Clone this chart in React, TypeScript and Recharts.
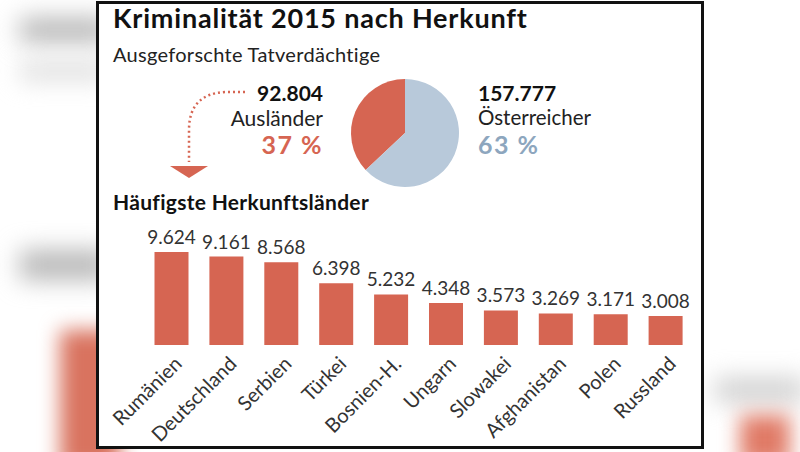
import React from "react";
import { Bar, BarChart, Cell, LabelList, Pie, PieChart, XAxis, YAxis } from "recharts";

// Data read from the graphic
const countries = [
  "Rumänien",
  "Deutschland",
  "Serbien",
  "Türkei",
  "Bosnien-H.",
  "Ungarn",
  "Slowakei",
  "Afghanistan",
  "Polen",
  "Russland"
];
const suspects = [9624, 9161, 8568, 6398, 5232, 4348, 3573, 3269, 3171, 3008];

const groupNames = ["Ausländer", "Österreicher"];
const groupValues = [92804, 157777];
const groupShares = ["37 %", "63 %"];

const RED = "#d66552";
const BLUE = "#b8c9da";
const BLUE_TEXT = "#8da6be";
const FONT = "Lato, 'Open Sans', sans-serif";

const fmt = (v: number) => v.toLocaleString("de-DE");

const barData = countries.map((name, i) => ({ name, value: suspects[i] }));
const pieData = groupNames.map((name, i) => ({ name, value: groupValues[i] }));

const CountryTick = (props: any) => {
  const { x, y, payload } = props;
  return (
    <g transform={`translate(${x + 4},${y + 5})`}>
      <text
        transform="rotate(-45)"
        textAnchor="end"
        dy={10}
        fill="#333"
        fontSize={20}
        fontFamily={FONT}
      >
        {payload.value}
      </text>
    </g>
  );
};

const blur = (left: number, top: number, w: number, h: number, color: string, r = 12) => (
  <div
    style={{
      position: "absolute",
      left,
      top,
      width: w,
      height: h,
      background: color,
      filter: `blur(${r}px)`
    }}
  />
);

export default function App() {
  return (
    <div
      style={{
        position: "absolute",
        left: 0,
        top: 0,
        width: 800,
        height: 452,
        overflow: "hidden",
        background: "#fff",
        fontFamily: FONT
      }}
    >
      {/* blurred page behind the graphic */}
      {blur(20, 18, 90, 24, "#b5b5b5")}
      {blur(20, 62, 90, 18, "#dcdcdc")}
      {blur(20, 250, 90, 30, "#b8b8b8")}
      {blur(60, 330, 60, 140, "#d9735f", 10)}
      {blur(715, 378, 90, 24, "#cfcfcf")}
      {blur(740, 415, 50, 50, "#e07a66", 10)}

      {/* panel */}
      <div
        style={{
          position: "absolute",
          left: 96,
          top: 1,
          width: 602,
          height: 442,
          border: "3px solid #111",
          background: "#fff"
        }}
      />

      <div style={{ position: "absolute", left: 113, top: 1, fontSize: 27, letterSpacing: 0.8, fontWeight: 700, color: "#111", whiteSpace: "nowrap" }}>
        Kriminalität 2015 nach Herkunft
      </div>
      <div style={{ position: "absolute", left: 113, top: 42, fontSize: 20, letterSpacing: 0.3, color: "#222", whiteSpace: "nowrap" }}>
        Ausgeforschte Tatverdächtige
      </div>

      {/* left group text */}
      <div style={{ position: "absolute", right: 800 - 323, top: 80, textAlign: "right", lineHeight: "25px", whiteSpace: "nowrap" }}>
        <div style={{ fontSize: 21, fontWeight: 700, color: "#111" }}>{fmt(groupValues[0])}</div>
        <div style={{ fontSize: 21, color: "#222" }}>{groupNames[0]}</div>
        <div style={{ fontSize: 25, letterSpacing: 1.5, fontWeight: 700, color: RED, lineHeight: "28px" }}>{groupShares[0]}</div>
      </div>

      {/* right group text */}
      <div style={{ position: "absolute", left: 478, top: 80, lineHeight: "25px", whiteSpace: "nowrap" }}>
        <div style={{ fontSize: 21, fontWeight: 700, color: "#111" }}>{fmt(groupValues[1])}</div>
        <div style={{ fontSize: 20.5, color: "#222" }}>{groupNames[1]}</div>
        <div style={{ fontSize: 25, letterSpacing: 1.5, fontWeight: 700, color: BLUE_TEXT, lineHeight: "28px" }}>{groupShares[1]}</div>
      </div>

      {/* dotted arrow */}
      <svg style={{ position: "absolute", left: 0, top: 0 }} width={800} height={452}>
        <path
          d="M 245 92 L 225 92 Q 189 94 189 130 L 189 162"
          fill="none"
          stroke={RED}
          strokeWidth={2.5}
          strokeDasharray="2 3"
        />
        <polygon points="170,166 208,166 189,178" fill={RED} />
      </svg>

      {/* pie */}
      <div style={{ position: "absolute", left: 340, top: 68 }}>
        <PieChart width={120} height={120}>
          <Pie
            data={pieData}
            dataKey="value"
            nameKey="name"
            cx={60}
            cy={60}
            outerRadius={54}
            startAngle={90}
            endAngle={450}
            stroke="none"
            isAnimationActive={false}
          >
            <Cell fill={RED} />
            <Cell fill={BLUE} />
          </Pie>
        </PieChart>
      </div>

      <div style={{ position: "absolute", left: 113, top: 189, fontSize: 21, letterSpacing: 0.3, fontWeight: 700, color: "#111", whiteSpace: "nowrap" }}>
        Häufigste Herkunftsländer
      </div>

      {/* bar chart */}
      <div style={{ position: "absolute", left: 0, top: 200 }}>
        <BarChart
          width={800}
          height={252}
          data={barData}
          margin={{ top: 48.4, right: 106.5, bottom: 7, left: 144.5 }}
        >
          <XAxis
            dataKey="name"
            axisLine={false}
            tickLine={false}
            interval={0}
            height={100}
            tick={<CountryTick />}
          />
          <YAxis hide domain={[0, 10000]} />
          <Bar dataKey="value" fill={RED} barSize={34} isAnimationActive={false}>
            <LabelList
              dataKey="value"
              position="top"
              offset={8}
              formatter={(v: any) => fmt(Number(v))}
              fill="#333"
              fontSize={19}
              fontFamily={FONT}
            />
          </Bar>
        </BarChart>
      </div>
    </div>
  );
}
